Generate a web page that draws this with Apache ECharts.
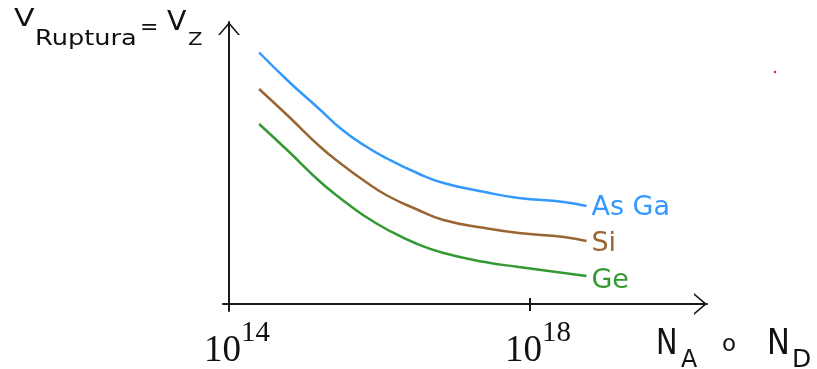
<!DOCTYPE html>
<html>
<head>
<meta charset="utf-8">
<script src="https://cdn.jsdelivr.net/npm/echarts@6/dist/echarts.min.js"></script>
<style>html,body{margin:0;padding:0;background:#fff}#c{width:817px;height:369px}</style>
</head>
<body>
<div id="c"></div>
<script>
// Doping concentration exponents (10^x) at sampled points
const dopingExp = [14.4, 14.8, 15.2, 15.5, 15.8, 16.1, 16.5, 16.85, 17.4, 17.85, 18.45, 18.75];
// Breakdown voltage (relative units) for each material
const seriesNames = ['As Ga', 'Si', 'Ge'];
const vAsGa = [251.5, 222, 195, 174.5, 158.5, 145.5, 131, 121, 112, 106, 102, 98];
const vSi   = [215, 187, 158, 139.5, 123, 108.5, 94.5, 84, 76, 71, 67, 63];
const vGe   = [180, 152, 123, 104.5, 88, 74.5, 60, 51, 42, 37, 31, 28];
// Tick labels (exponents)
const tickExps = [14, 18];
const colors = ['#3399ff', '#996633', '#339933'];
const labelShift = [2, 3, 5];

const base = 14;
const arrowPath = 'path://M0,13 L11,0 L22,13 L20,13 L11,2.6 L2,13 Z';
const chart = echarts.init(document.getElementById('c'));

function mk(name, vals, color, dy) {
  return {
    name: name, type: 'line', smooth: 0.5, showSymbol: false,
    lineStyle: {color: color, width: 2.5}, itemStyle: {color: color},
    data: dopingExp.map((e, i) => [e - base, vals[i]]),
    endLabel: {show: true, formatter: name, color: color, distance: 5, offset: [0, dy],
      fontFamily: 'DejaVu Sans', fontSize: 27},
    emphasis: {disabled: true}
  };
}

const txt = (t, x, y, size, sx) => ({
  type: 'text', silent: true, x: x, y: y, scaleX: sx || 1,
  style: {text: t, x: 0, y: 0, fill: '#111', fontFamily: 'DejaVu Sans', fontSize: size,
    align: 'left', verticalAlign: 'middle'}
});

chart.setOption({
  animation: false,
  backgroundColor: '#fff',
  grid: {left: 223, right: 110, top: 22, bottom: 58, containLabel: false, outerBoundsMode: 'none'},
  xAxis: [{
    type: 'value', min: -0.08, max: 6.352,
    splitLine: {show: false},
    axisLine: {onZero: true, onZeroAxisIndex: 0,
      lineStyle: {color: '#1a1a1a', width: 2},
      symbol: ['none', arrowPath], symbolSize: [22, 13], symbolOffset: [0, -6.5]},
    axisTick: {show: true, inside: false, length: 7, customValues: tickExps.map(e => e - base),
      lineStyle: {color: '#1a1a1a', width: 2}},
    axisLabel: {show: true, customValues: tickExps.map(e => e - base), margin: 8,
      padding: [0, 0, 0, 16],
      formatter: v => '{b|10}{s|' + Math.round(v + base) + '}',
      rich: {
        b: {fontFamily: 'Liberation Serif', fontSize: 37, color: '#111', lineHeight: 51, verticalAlign: 'bottom'},
        s: {fontFamily: 'Liberation Serif', fontSize: 29, color: '#111', lineHeight: 12, verticalAlign: 'top'}
      }}
  }, {
    type: 'value', min: -0.08, max: 6.352, position: 'bottom',
    splitLine: {show: false},
    axisLine: {show: false, onZero: true, onZeroAxisIndex: 0},
    axisTick: {show: true, inside: true, length: 6, customValues: tickExps.map(e => e - base),
      lineStyle: {color: '#1a1a1a', width: 2}},
    axisLabel: {show: false}
  }],
  yAxis: {
    type: 'value', min: -7, max: 282,
    splitLine: {show: false},
    axisLine: {onZero: true, onZeroAxisIndex: 0,
      lineStyle: {color: '#1a1a1a', width: 2},
      symbol: ['none', arrowPath], symbolSize: [22, 13], symbolOffset: [0, -6.5]},
    axisTick: {show: false},
    axisLabel: {show: false}
  },
  series: seriesNames.map((n, i) => mk(n, [vAsGa, vSi, vGe][i], colors[i], labelShift[i])),
  graphic: [
    txt('V', 14, 19, 25, 1.2),
    txt('Ruptura', 35, 40, 21, 1.22),
    txt('=', 140, 28.5, 22, 1.0),
    txt('V', 167, 23, 27, 1.05),
    txt('Z', 188, 41, 17, 1.25),
    txt('N', 656, 345, 36, 0.8),
    txt('A', 681, 360, 25, 0.95),
    txt('o', 722, 345, 23, 1.0),
    txt('N', 767, 345, 36, 0.85),
    txt('D', 792, 360, 25, 1.0),
    {type: 'circle', silent: true, shape: {cx: 775, cy: 72, r: 1.3}, style: {fill: '#c0392b'}}
  ]
});
</script>
</body>
</html>
